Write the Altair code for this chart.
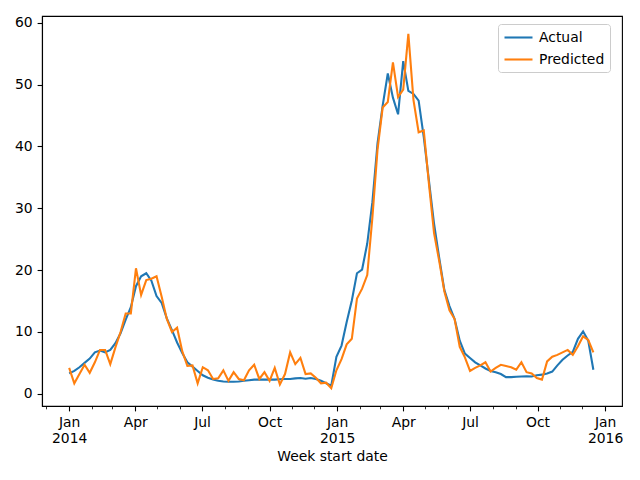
import altair as alt
import pandas as pd

# Weekly series, one value per week starting 2014-01-01
actual = [
    3.3, 3.7, 4.3, 5.0, 5.7, 6.7, 7.0, 6.7, 7.1, 8.2,
    9.8, 12.0, 14.0, 17.4, 19.0, 19.5, 18.3, 15.8, 14.7, 12.2,
    10.3, 8.3, 6.6, 5.1, 4.4, 3.7, 3.0, 2.6, 2.3, 2.1,
    2.0, 1.95, 1.95, 2.0, 2.1, 2.2, 2.3, 2.3, 2.3, 2.3,
    2.3, 2.35, 2.4, 2.4, 2.5, 2.55, 2.45, 2.55, 2.4, 2.1, 1.7, 1.3,
    6.0, 7.8, 11.6, 15.1, 19.5, 20.1, 24.3, 31.0, 40.5, 46.6,
    51.8, 47.9, 45.2, 53.8, 49.0, 48.5, 47.4, 41.5, 34.5, 27.5,
    22.0, 16.8, 14.2, 12.1, 8.6, 6.5, 5.8, 5.1, 4.6, 4.1,
    3.7, 3.5, 3.2, 2.7, 2.7, 2.75, 2.8, 2.85, 2.8, 3.0,
    3.1, 3.3, 3.6, 4.6, 5.5, 6.2, 6.8, 8.9, 10.1, 8.6, 3.9,
]
predicted = [
    4.2, 1.7, 3.2, 4.7, 3.4, 5.1, 7.1, 7.1, 4.8, 7.5,
    10.0, 13.0, 13.0, 20.3, 16.0, 18.4, 18.6, 19.0, 15.7, 12.1,
    10.0, 10.7, 6.9, 4.5, 4.6, 1.7, 4.3, 3.8, 2.4, 2.5,
    3.8, 2.1, 3.5, 2.4, 2.2, 3.8, 4.7, 2.4, 3.5, 2.1,
    4.2, 1.5, 3.2, 6.7, 4.8, 5.8, 3.2, 3.3, 2.6, 1.7, 1.8, 0.9,
    3.8, 5.6, 8.0, 8.9, 15.4, 17.0, 19.2, 28.5, 39.5, 46.3,
    47.2, 53.6, 48.0, 49.2, 58.2, 47.5, 42.3, 42.6, 34.0, 26.0,
    21.5, 16.6, 13.5, 12.1, 7.6, 5.9, 3.7, 4.2, 4.6, 5.1,
    3.6, 4.2, 4.7, 4.5, 4.3, 3.9, 5.1, 3.5, 3.3, 2.55,
    2.3, 5.25, 6.0, 6.3, 6.7, 7.1, 6.3, 7.7, 9.3, 8.7, 6.7,
]
series_names = ["Actual", "Predicted"]
series_colors = ["#1f77b4", "#ff7f0e"]
y_ticks = [0, 10, 20, 30, 40, 50, 60]

weeks = pd.date_range("2014-01-01", periods=len(actual), freq="7D")
dates = weeks.strftime("%Y-%m-%dT00:00:00Z")
df = pd.concat([
    pd.DataFrame({"date": dates, "value": actual, "series": series_names[0]}),
    pd.DataFrame({"date": dates, "value": predicted, "series": series_names[1]}),
], ignore_index=True)

FONT = "DejaVu Sans"
FS = 13.9


def dt(y, m, d=1):
    return alt.DateTime(year=y, month=m, date=d, utc=True)


major_ticks = [dt(y, m) for y in (2014, 2015) for m in (1, 4, 7, 10)] + [dt(2016, 1)]
minor_ticks = [dt(2013, 12)] + [
    dt(y, m) for y in (2014, 2015) for m in (2, 3, 5, 6, 8, 9, 11, 12)
]

x_scale = alt.Scale(type="utc", domain=[dt(2013, 11, 25), dt(2016, 1, 24)])
y_scale = alt.Scale(domain=[-1.97, 61.1], nice=False, zero=False)
color_scale = alt.Scale(domain=series_names, range=series_colors)

label_expr = (
    "utcFormat(datum.value, '%m') == '01' ? "
    "[utcFormat(datum.value, '%b'), utcFormat(datum.value, '%Y')] : "
    "utcFormat(datum.value, '%b')"
)

x_major = alt.Axis(
    orient="bottom", values=major_ticks, labelExpr=label_expr, title="Week start date",
    grid=False, tickSize=4.9, tickWidth=1.1, tickColor="black", domainColor="black",
    domainWidth=1.1, labelPadding=4.9, labelLineHeight=16, labelFont=FONT,
    labelFontSize=FS, labelColor="black", labelAngle=0, titleFont=FONT,
    titleFontSize=FS, titleFontWeight="normal", titleColor="black", titlePadding=4,
    labelOverlap=False,
)
x_minor = alt.Axis(
    orient="bottom", values=minor_ticks, labels=False, domain=False, grid=False,
    tickSize=2.8, tickWidth=0.8, tickColor="black", title=None,
)
y_axis = alt.Axis(
    values=y_ticks, title=None, grid=False, tickSize=4.9, tickWidth=1.1,
    tickColor="black", domainColor="black", domainWidth=1.1, labelPadding=4.9,
    labelFont=FONT, labelFontSize=FS, labelColor="black",
)

legend = alt.Legend(
    title=None, orient="none", legendX=456, legendY=8,
    symbolType="M-2,0H2", symbolSize=196, symbolStrokeWidth=2.08,
    symbolOffset=7, labelOffset=12, labelFont=FONT, labelFontSize=FS,
    labelColor="black", padding=5, rowPadding=6,
    strokeColor="#cccccc", fillColor="rgba(255,255,255,0.8)", cornerRadius=3,
)

base = alt.Chart(df)

# invisible layer that only carries the monthly minor ticks
minor = base.mark_line(opacity=0).encode(
    x=alt.X("date:T", scale=x_scale, axis=x_minor),
    y=alt.Y("value:Q", scale=y_scale, axis=y_axis),
    detail="series:N",
)

lines = base.mark_line(strokeWidth=2.08).encode(
    x=alt.X("date:T", scale=x_scale, axis=x_major),
    y=alt.Y("value:Q", scale=y_scale, axis=y_axis),
    color=alt.Color("series:N", scale=color_scale, legend=legend),
)

chart = (
    alt.layer(minor, lines)
    .resolve_axis(x="independent")
    .properties(
        width=580, height=390, autosize="none",
        padding={"left": 42, "top": 16, "right": 18, "bottom": 74},
        background="white",
    )
    .configure_view(stroke="black", strokeWidth=1.1)
)

chart.save("out.html", embed_options={"renderer": "svg", "actions": False})
